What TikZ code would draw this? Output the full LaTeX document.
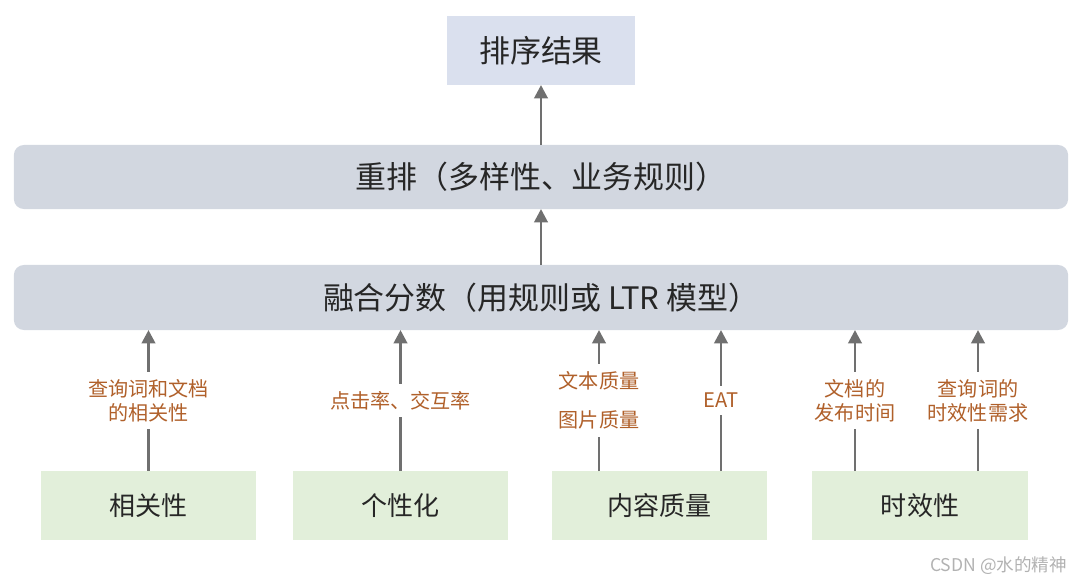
\documentclass[tikz,border=0pt]{standalone}
\usepackage{fontspec}
\setmainfont{Noto Sans CJK SC}
\usetikzlibrary{arrows.meta}
\definecolor{resultblue}{HTML}{DAE0EE}
\definecolor{stagegray}{HTML}{D2D7E0}
\definecolor{factorgreen}{HTML}{E2EFDA}
\definecolor{arrowgray}{HTML}{707070}
\definecolor{labelbrown}{HTML}{B0602A}
\tikzset{
    factorlabel/.style={fill=white, text=labelbrown, align=center, inner sep=5pt,
        font=\fontsize{14.3}{17}\selectfont}
}

\begin{document}
\begin{tikzpicture}[x=0.025cm, y=-0.025cm]
    \useasboundingbox (0,0) rectangle (1084,584);

    \begin{scope}[every node/.style={inner sep=0pt, outer sep=0pt, text=black!85, font=\fontsize{22}{26}\selectfont}]
        \node[fill=resultblue, minimum width=4.7cm, minimum height=1.725cm] (result) at (541,50.5) {排序结果};
        \node[fill=stagegray, rounded corners=0.25cm, minimum width=26.35cm, minimum height=1.6cm] (rerank) at (541,177) {重排（多样性、业务规则）};
        \node[fill=stagegray, rounded corners=0.25cm, minimum width=26.35cm, minimum height=1.625cm] (fuse) at (541,297.5) {融合分数（用规则或 LTR 模型）};
    \end{scope}

    \begin{scope}[every node/.style={fill=factorgreen, minimum width=5.375cm, minimum height=1.725cm, inner sep=0pt, outer sep=0pt, text=black!85, font=\fontsize{18.5}{22}\selectfont}]
        \node (rel) at (148.5,505.5) {相关性};
        \node (pers) at (400.5,505.5) {个性化};
        \node (qual) at (659.5,505.5) {内容质量};
        \node (fresh) at (920,505.5) {时效性};
    \end{scope}

    \coordinate (qualA) at (599,471);
    \coordinate (qualB) at (721,471);
    \coordinate (freshA) at (855,471);
    \coordinate (freshB) at (978,471);

    \begin{scope}[every edge/.style={draw=arrowgray, line width=2pt, -{Triangle[width=9.5pt,length=9.5pt]}}]
        \path (rerank) edge (result);
        \path (fuse) edge (rerank);
        \path (rel) edge node[factorlabel] {查询词和文档\\的相关性} (rel |- fuse.south);
        \path (pers) edge node[factorlabel] {点击率、交互率} (pers |- fuse.south);
        \path (qualA) edge node[factorlabel] {文本质量\\[11pt]图片质量} (qualA |- fuse.south);
        \path (qualB) edge node[factorlabel] {EAT} (qualB |- fuse.south);
        \path (freshA) edge node[factorlabel] {文档的\\发布时间} (freshA |- fuse.south);
        \path (freshB) edge node[factorlabel] {查询词的\\时效性需求} (freshB |- fuse.south);
    \end{scope}

    \node[anchor=east, text=gray!60, font=\fontsize{12.5}{15}\selectfont] (mark) at (1072,566) {CSDN @水的精神};
\end{tikzpicture}
\end{document}
